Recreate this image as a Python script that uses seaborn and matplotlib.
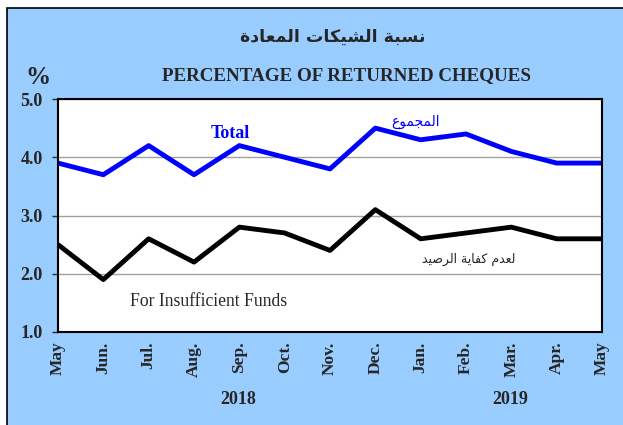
import seaborn as sns
import matplotlib.pyplot as plt
import pandas as pd
from matplotlib.patches import Rectangle

# data
months = ["May", "Jun.", "Jul.", "Aug.", "Sep.", "Oct.", "Nov.",
          "Dec.", "Jan.", "Feb.", "Mar.", "Apr.", "May"]
total = [3.9, 3.7, 4.2, 3.7, 4.2, 4.0, 3.8, 4.5, 4.3, 4.4, 4.1, 3.9, 3.9]
insufficient = [2.5, 1.9, 2.6, 2.2, 2.8, 2.7, 2.4, 3.1, 2.6, 2.7, 2.8, 2.6, 2.6]
years = ["2018", "2019"]

title_ar = "نسبة الشيكات المعادة"
title_en = "PERCENTAGE OF RETURNED CHEQUES"
total_ar = "المجموع"
insuff_ar = "لعدم كفاية الرصيد"

# matplotlib has no arabic shaping, so pick presentation forms by hand
FORMS = {
    "ا": ("\uFE8D", "\uFE8E", None, None),
    "ب": ("\uFE8F", "\uFE90", "\uFE91", "\uFE92"),
    "ة": ("\uFE93", "\uFE94", None, None),
    "ت": ("\uFE95", "\uFE96", "\uFE97", "\uFE98"),
    "ج": ("\uFE9D", "\uFE9E", "\uFE9F", "\uFEA0"),
    "د": ("\uFEA9", "\uFEAA", None, None),
    "ر": ("\uFEAD", "\uFEAE", None, None),
    "س": ("\uFEB1", "\uFEB2", "\uFEB3", "\uFEB4"),
    "ش": ("\uFEB5", "\uFEB6", "\uFEB7", "\uFEB8"),
    "ص": ("\uFEB9", "\uFEBA", "\uFEBB", "\uFEBC"),
    "ع": ("\uFEC9", "\uFECA", "\uFECB", "\uFECC"),
    "ف": ("\uFED1", "\uFED2", "\uFED3", "\uFED4"),
    "ك": ("\uFED9", "\uFEDA", "\uFEDB", "\uFEDC"),
    "ل": ("\uFEDD", "\uFEDE", "\uFEDF", "\uFEE0"),
    "م": ("\uFEE1", "\uFEE2", "\uFEE3", "\uFEE4"),
    "ن": ("\uFEE5", "\uFEE6", "\uFEE7", "\uFEE8"),
    "و": ("\uFEED", "\uFEEE", None, None),
    "ي": ("\uFEF1", "\uFEF2", "\uFEF3", "\uFEF4"),
}


def shape(text):
    out = []
    for i, ch in enumerate(text):
        if ch not in FORMS:
            out.append(ch)
            continue
        prev = text[i - 1] if i > 0 else ""
        nxt = text[i + 1] if i + 1 < len(text) else ""
        join_prev = prev in FORMS and FORMS[prev][2] is not None
        join_next = nxt in FORMS and FORMS[ch][2] is not None
        iso, fin, ini, med = FORMS[ch]
        if join_prev and join_next:
            out.append(med)
        elif join_prev:
            out.append(fin)
        elif join_next:
            out.append(ini)
        else:
            out.append(iso)
    return "".join(out)[::-1]


df = pd.DataFrame({"pos": list(range(len(months))) * 2,
                   "value": total + insufficient,
                   "series": ["Total"] * len(total) + ["Insufficient"] * len(insufficient)})

sns.set_style("white")
plt.rcParams["font.family"] = ["Liberation Serif", "DejaVu Sans"]

fig = plt.figure(figsize=(6.23, 4.25), dpi=100)
fig.patches.append(Rectangle((7 / 623, -0.1), 1.0, 417 / 425 + 0.1, transform=fig.transFigure,
                             facecolor="#99CCFF", edgecolor="black", linewidth=1.2, zorder=-5))

ax = fig.add_axes([58 / 623, 1 - 332 / 425, 544 / 623, 233 / 425])
ax.set_facecolor("white")
sns.lineplot(data=df, x="pos", y="value", hue="series",
             palette={"Total": "#0000FF", "Insufficient": "black"},
             linewidth=3.5, legend=False, ax=ax)

ax.set_xlim(0, len(months) - 1)
ax.set_ylim(1, 5)
ax.set_yticks([1, 2, 3, 4, 5])
ax.set_yticklabels([f"{v:.1f}" for v in [1, 2, 3, 4, 5]], fontsize=13, fontweight="bold")
ax.set_xticks(range(len(months)))
ax.set_xticklabels(months, rotation=90, fontsize=12.5, fontweight="bold")
ax.tick_params(axis="x", direction="inout", length=8, width=1, pad=3)
ax.tick_params(axis="y", direction="out", length=4, width=1, pad=7, left=True)
ax.grid(axis="y", color="#A0A0A0", linewidth=1)
ax.set_xlabel("")
ax.set_ylabel("")
for s in ax.spines.values():
    s.set_color("black")
    s.set_linewidth(1.5)

# titles and labels
fig.text(333 / 623, 1 - 37 / 425, shape(title_ar), ha="center", va="center",
         fontsize=12.5, fontweight="bold", family="DejaVu Sans")
fig.text(346 / 623, 1 - 76 / 425, title_en, ha="center", va="center",
         fontsize=13.7, fontweight="bold")
fig.text(38 / 623, 1 - 77 / 425, "%", ha="center", va="center", fontsize=18, fontweight="bold")

ax.text(3.8, 4.40, "Total", color="#0000FF", fontsize=13, fontweight="bold", ha="center", va="center")
ax.text(7.88, 4.6, shape(total_ar), color="#0000FF", fontsize=10, ha="center", va="center",
        family="DejaVu Sans")
ax.text(3.33, 1.53, "For Insufficient Funds", fontsize=12.7, ha="center", va="center")
ax.text(9.05, 2.24, shape(insuff_ar), fontsize=9, ha="center", va="center", family="DejaVu Sans")

fig.text(238 / 623, 1 - 400 / 425, years[0], ha="center", va="center", fontsize=13, fontweight="bold")
fig.text(510 / 623, 1 - 400 / 425, years[1], ha="center", va="center", fontsize=13, fontweight="bold")

fig.savefig("out.png", dpi=100)
